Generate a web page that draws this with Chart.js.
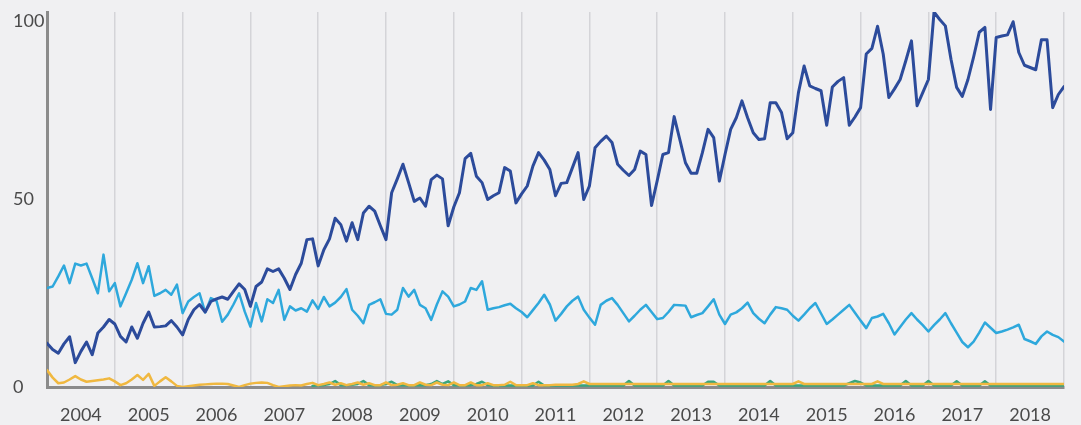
<!DOCTYPE html>
<html>
<head>
<meta charset="utf-8">
<script src="https://cdn.jsdelivr.net/npm/chart.js@4.4.1/dist/chart.umd.min.js"></script>
<style>
  html, body { margin: 0; padding: 0; background: #f0f0f2; }
  canvas { display: block; }
</style>
</head>
<body>
<canvas id="trendChart" width="1081" height="425"></canvas>
<script>
// 年份标签，每年一个，放在每年的中间位置
const years = ['2004', '2005', '2006', '2007', '2008', '2009', '2010', '2011',
               '2012', '2013', '2014', '2015', '2016', '2017', '2018'];

// 纵轴刻度
const yTicks = [0, 50, 100];

// 深蓝色序列（月度，2004年1月起）
const seriesDark = [
  11.7, 10, 9, 11.5, 13.4, 6.5, 9.5, 12, 8.6, 14.4,
  16, 18, 16.8, 13.5, 12, 16, 13, 17, 20, 16,
  16.1, 16.3, 17.7, 16, 13.9, 18, 20.6, 22, 20, 22.8,
  23.5, 24, 23.4, 25.5, 27.5, 26, 21.5, 26.8, 28, 31.5,
  30.8, 31.5, 29, 26, 30, 33, 39.3, 39.5, 32.3, 36.6,
  39.5, 45, 43.3, 38.9, 43.8, 39.3, 46.4, 48.2, 46.9, 43,
  39.3, 51.8, 55.5, 59.4, 54.5, 49.5, 50.4, 48.2, 55.3, 56.5,
  55.5, 43, 48, 51.8, 60.9, 62.3, 56.2, 54.5, 50, 51,
  51.8, 58.5, 57.6, 49.1, 51.5, 53.6, 58.9, 62.5, 60.5, 58,
  51, 54.3, 54.5, 58.5, 62.5, 50, 53.6, 63.8, 65.5, 66.9,
  65.2, 59.4, 57.8, 56.4, 58, 62.9, 62, 48.4, 55, 62,
  62.5, 72.1, 66, 59.8, 57, 57, 62.5, 68.7, 66.5, 54.9,
  62, 68.7, 71.8, 76.3, 71.8, 67.8, 66, 66.2, 75.8, 75.8,
  73.2, 66.2, 67.8, 78.5, 85.6, 80.3, 79.6, 79, 69.8, 80,
  81.5, 82.5, 69.8, 72, 74.5, 88.8, 90.3, 96.2, 88.8, 77.2,
  79.5, 82, 87, 92.3, 75, 78.5, 82, 100, 98, 96.3,
  87.4, 79.9, 77.5, 82, 88, 94.6, 95.9, 74, 93.2, 93.6,
  93.9, 97.4, 89.2, 85.8, 85.2, 84.6, 92.6, 92.6, 74.5, 78,
  80.1
];

// 浅蓝色序列
const seriesLight = [
  26.4, 26.8, 29.5, 32.4, 27.7, 32.9, 32.4, 32.9, 29, 25,
  35.3, 25.5, 27.7, 21.5, 25, 28.6, 33, 27.7, 32.2, 24.3,
  25, 25.9, 24.6, 27.3, 19.7, 22.8, 24, 25, 19.9, 23.7,
  23, 17.4, 19.3, 22, 25, 20.1, 16.1, 22.4, 17.5, 23.4,
  22.4, 25.9, 17.9, 21.5, 20.4, 21, 20.1, 23.1, 20.8, 24,
  21.5, 22.5, 24, 26.1, 20.6, 19, 17, 21.9, 22.6, 23.4,
  19.5, 19.3, 20.6, 26.4, 24.1, 25.9, 21.9, 21, 17.9, 22,
  25.5, 24.1, 21.5, 22, 22.8, 26.4, 25.9, 28.2, 20.6, 21,
  21.3, 21.8, 22.2, 21, 20, 18.6, 20.5, 22.4, 24.6, 22,
  17.7, 19.5, 21.5, 23, 24.1, 20.6, 18.5, 16.6, 21.9, 23,
  23.7, 21.9, 19.7, 17.5, 19, 20.6, 21.9, 20, 18.1, 18.4,
  20, 21.9, 21.8, 21.7, 18.6, 19.2, 19.7, 21.5, 23.4, 19.3,
  16.8, 19.3, 19.9, 21, 22.5, 19.7, 18.2, 17, 19.3, 21.3,
  21, 20.6, 19, 17.7, 19.3, 21, 22.4, 19.6, 16.8, 18,
  19.3, 20.6, 21.9, 19.8, 17.7, 15.7, 18.4, 18.8, 19.5, 17,
  14, 16, 18, 19.7, 18, 16.5, 14.8, 16.5, 18, 19.7,
  17, 14.5, 12, 10.6, 12.1, 14.5, 17.2, 15.8, 14.4, 14.8,
  15.3, 15.9, 16.6, 12.8, 12.2, 11.5, 13.5, 14.8, 13.9, 13.3,
  12.1
];

// 黄色序列
const seriesYellow = [
  4.5, 2.5, 1, 1.2, 2, 2.9, 2, 1.4, 1.6, 1.8,
  2, 2.3, 1.5, 0.5, 1, 2, 3.2, 1.9, 3.5, 0.3,
  1.5, 2.6, 1.5, 0.3, 0, 0.2, 0.4, 0.6, 0.7, 0.8,
  0.9, 0.9, 0.8, 0.4, 0, 0.5, 0.9, 1.1, 1.2, 1.1,
  0.5, 0, 0.2, 0.4, 0.5, 0.4, 0.8, 1.1, 0.5, 0.8,
  1.2, 0.6, 1, 0.5, 0.8, 1.2, 0.6, 1, 0.5, 0.5,
  1.2, 0.5, 0.6, 1, 0.5, 0.5, 1.2, 0.6, 0.5, 1.2,
  0.6, 0.5, 1.2, 0.5, 0.5, 1.2, 0.5, 0.5, 1, 0.5,
  0.5, 0.6, 1.4, 0.5, 0.5, 0.5, 1, 0.5, 0.5, 0.5,
  0.6, 0.6, 0.6, 0.6, 0.8, 1.5, 0.8, 0.8, 0.8, 0.8,
  0.8, 0.8, 0.8, 0.8, 0.8, 0.8, 0.8, 0.8, 0.8, 0.8,
  0.8, 0.8, 0.8, 0.8, 0.8, 0.8, 0.8, 0.8, 0.8, 0.8,
  0.8, 0.8, 0.8, 0.8, 0.8, 0.8, 0.8, 0.8, 0.8, 0.8,
  0.8, 0.8, 0.8, 1.5, 0.8, 0.8, 0.8, 0.8, 0.8, 0.8,
  0.8, 0.8, 0.8, 0.8, 0.8, 0.8, 0.8, 1.5, 0.8, 0.8,
  0.8, 0.8, 0.8, 0.8, 0.8, 0.8, 0.8, 0.8, 0.8, 0.8,
  0.8, 0.8, 0.8, 0.8, 0.8, 0.8, 0.8, 0.8, 0.8, 0.8,
  0.8, 0.8, 0.8, 0.8, 0.8, 0.8, 0.8, 0.8, 0.8, 0.8,
  0.8
];

// 绿色序列，2008年之前没有数据
const seriesGreen = [
  null, null, null, null, null, null, null, null, null, null,
  null, null, null, null, null, null, null, null, null, null,
  null, null, null, null, null, null, null, null, null, null,
  null, null, null, null, null, null, null, null, null, null,
  null, null, null, null, null, null, null, 0.3, 0.5, 0.5,
  0.8, 1.6, 0.5, 0.5, 0.6, 0.8, 1.6, 0.5, 0.5, 0.5,
  0.8, 1.4, 0.5, 0.5, 0.5, 0.5, 0.5, 0.5, 0.8, 1.6,
  0.8, 1.5, 0.5, 0.5, 0.5, 0.5, 0.8, 1.4, 0.5, 0.4,
  0.4, 0.4, 0.4, 0.4, 0.4, 0.4, 0.4, 1.4, 0.4, 0.4,
  0.4, 0.4, 0.4, 0.4, 0.4, 0.4, 0.4, 0.4, 0.4, 0.4,
  0.4, 0.4, 0.4, 1.6, 0.4, 0.4, 0.4, 0.4, 0.4, 0.4,
  1.6, 0.4, 0.4, 0.4, 0.4, 0.4, 0.4, 1.4, 1.4, 0.4,
  0.4, 0.4, 0.4, 0.4, 0.4, 0.4, 0.4, 0.4, 1.6, 0.4,
  0.4, 0.4, 0.4, 0.4, 0.4, 0.4, 0.4, 0.4, 0.4, 0.4,
  0.4, 0.4, 1, 1.6, 1.2, 0.4, 0.4, 0.4, 0.4, 0.4,
  0.4, 0.4, 1.6, 0.4, 0.4, 0.4, 1.6, 0.4, 0.4, 0.4,
  0.4, 1.5, 0.4, 0.4, 0.4, 0.4, 1.5, 0.4, 0.4, 0.4,
  0.4, 0.4, 0.4, 0.4, 0.4, 0.4, 0.4, 0.4, 0.4, 0.4,
  0.4
];

// 把月度数组转成 {x: 月序号, y: 值}，横轴用线性刻度
const toPoints = arr => arr.map((v, i) => ({ x: i, y: v }));

const lastIndex = seriesDark.length - 1;

const ctx = document.getElementById('trendChart');

new Chart(ctx, {
    type: 'line',
    data: {
        datasets: [
            {
                label: 'dark',
                data: toPoints(seriesDark),
                borderColor: '#2c4b9b',
                borderWidth: 3,
                order: 0
            },
            {
                label: 'light',
                data: toPoints(seriesLight),
                borderColor: '#2ea8dc',
                borderWidth: 2.5,
                order: 1
            },
            {
                label: 'yellow',
                data: toPoints(seriesYellow),
                borderColor: '#f0b840',
                borderWidth: 2.5,
                order: 2
            },
            {
                label: 'green',
                data: toPoints(seriesGreen),
                borderColor: '#3aa57c',
                borderWidth: 2.5,
                order: 3
            }
        ]
    },
    options: {
        responsive: false,
        animation: false,
        layout: { padding: { left: 13, right: 13, top: 12, bottom: 0 } },
        elements: {
            point: { radius: 0 },
            line: { tension: 0, borderJoinStyle: 'round', borderCapStyle: 'round' }
        },
        plugins: {
            legend: { display: false },
            tooltip: { enabled: false }
        },
        scales: {
            x: {
                type: 'linear',
                min: 0,
                max: lastIndex,
                afterBuildTicks: scale => {
                    // 每半年一个刻度：整年画竖线，年中放年份
                    const ticks = [];
                    for (let v = 0; v <= lastIndex; v += 6) ticks.push({ value: v });
                    scale.ticks = ticks;
                },
                afterFit: scale => { scale.height = 38; },
                grid: {
                    drawTicks: false,
                    lineWidth: 1.5,
                    color: c => (c.tick && c.tick.value % 12 === 0) ? '#d4d4d8' : 'rgba(0,0,0,0)'
                },
                border: { color: '#8b8b8b', width: 3 },
                ticks: {
                    autoSkip: false,
                    maxRotation: 0,
                    padding: 17,
                    color: '#4a4a4a',
                    font: { family: 'Lato', size: 18 },
                    callback: v => (v % 12 === 6) ? years[(v - 6) / 12] : ''
                }
            },
            y: {
                min: 0,
                max: 100,
                afterBuildTicks: scale => {
                    scale.ticks = yTicks.map(v => ({ value: v }));
                },
                afterFit: scale => {
                    scale.width = 34;
                    // 顶部标签已经下移，不需要额外留白
                    scale.paddingTop = 0;
                },
                grid: { display: false, drawTicks: false },
                border: { color: '#8b8b8b', width: 3 },
                ticks: {
                    crossAlign: 'far',
                    padding: 0,
                    color: '#4a4a4a',
                    font: { family: 'Lato', size: 18, lineHeight: 1 },
                    // 顶部的 100 往下挪半行，避免被画布边缘截掉
                    callback: v => v === 100 ? ['', String(v)] : String(v)
                }
            }
        }
    }
});
</script>
</body>
</html>
